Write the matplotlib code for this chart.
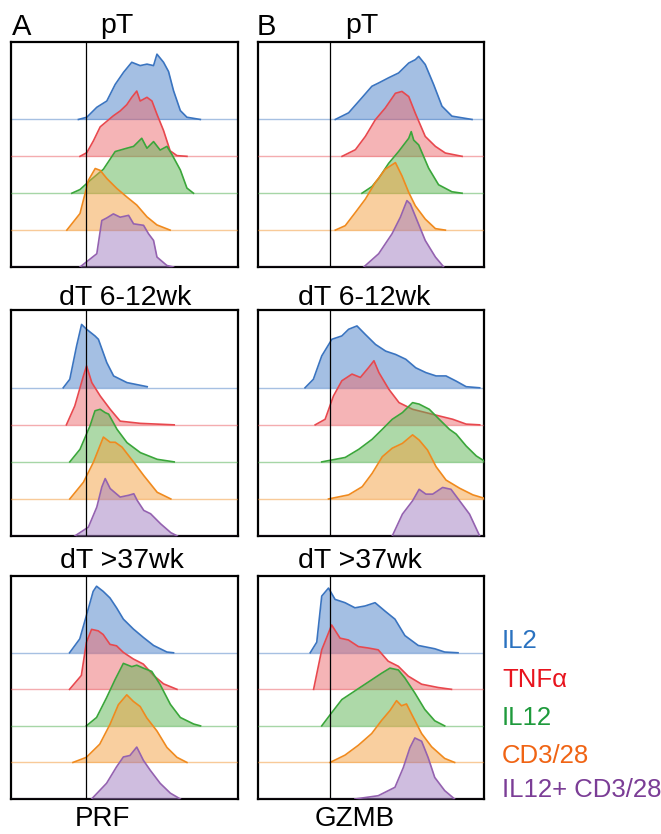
"""Stacked flow-cytometry histograms of PRF and GZMB per stimulation."""

import matplotlib
matplotlib.use("Agg")
import matplotlib.pyplot as plt
import numpy as np

plt.rcParams["font.family"] = ["Liberation Sans", "DejaVu Sans"]

conditions = ["IL2", "TNFα", "IL12", "CD3/28", "IL12+ CD3/28"]
label_colors = ["#2a72c0", "#e8141e", "#1e9a3c", "#f06414", "#7b3d96"]
fill_colors = ["#4a80c8", "#ec6a6e", "#5cb453", "#f4a040", "#a07cc0"]
edge_colors = ["#3a74c0", "#e8484e", "#3aa63a", "#f08a1e", "#9462b0"]

stages = ["pT", "dT 6-12wk", "dT >37wk"]
markers = ["PRF", "GZMB"]
gates = [33, 32]

# fluorescence (0-100) and histogram height (row units), one list per condition
prf_pt_x = [
    [29.7, 33.4, 37.8, 42.2, 45.9, 49.6, 53.2, 56.9, 59.9, 62.8, 64.3, 67.2, 69.4, 71.6, 74.6, 77.5, 83.4],
    [30.4, 33.4, 36.3, 39.3, 45.1, 48.1, 51.0, 53.2, 55.4, 56.9, 59.9, 62.1, 64.3, 67.2, 70.1, 73.1, 77.5],
    [26.8, 30.4, 34.9, 40.7, 45.9, 51.0, 54.0, 57.6, 59.9, 62.8, 65.7, 68.7, 70.9, 74.6, 77.5, 80.4],
    [24.6, 30.4, 34.1, 37.1, 39.3, 42.2, 46.6, 51.0, 55.4, 59.9, 64.3, 70.1],
    [30.4, 37.8, 40.0, 42.2, 45.1, 48.1, 51.8, 54.0, 58.4, 60.6, 62.8, 64.3, 68.7, 71.6],
]
prf_pt_h = [
    [0, 0.06, 0.33, 0.5, 0.95, 1.28, 1.55, 1.46, 1.5, 1.46, 1.77, 1.55, 1.3, 0.78, 0.24, 0.06, 0],
    [0, 0.1, 0.42, 0.8, 1.1, 1.23, 1.4, 1.6, 1.77, 1.5, 1.6, 1.5, 1.14, 0.7, 0.15, 0.02, 0],
    [0, 0.1, 0.35, 0.65, 1.13, 1.22, 1.27, 1.49, 1.22, 1.4, 1.17, 1.27, 1.05, 0.63, 0.14, 0],
    [0, 0.45, 1.35, 1.67, 1.62, 1.4, 1.13, 0.9, 0.68, 0.36, 0.14, 0],
    [0, 0.36, 1.26, 1.33, 1.44, 1.35, 1.4, 1.17, 1.13, 0.9, 0.72, 0.27, 0.04, 0],
]

gzmb_pt_x = [
    [34.2, 40.1, 46.0, 50.4, 53.4, 57.8, 62.2, 66.7, 69.6, 71.1, 74.0, 77.7, 81.4, 85.8, 91.7, 94.7],
    [37.2, 43.1, 47.5, 51.9, 56.3, 60.8, 63.7, 66.7, 69.6, 74.0, 78.5, 82.9, 90.3],
    [46.0, 50.4, 53.4, 57.8, 62.2, 66.7, 67.8, 68.9, 71.1, 75.5, 79.9, 85.8, 90.3],
    [34.2, 38.6, 43.1, 47.5, 51.9, 56.3, 60.8, 63.7, 66.7, 69.6, 74.0, 78.5, 82.9],
    [46.8, 53.4, 59.3, 63.0, 65.9, 67.4, 70.4, 74.0, 78.5, 82.2],
]
gzmb_pt_h = [
    [0, 0.18, 0.59, 0.9, 0.99, 1.13, 1.26, 1.53, 1.62, 1.71, 1.49, 0.95, 0.36, 0.09, 0.03, 0],
    [0, 0.18, 0.54, 0.99, 1.31, 1.71, 1.76, 1.62, 1.17, 0.54, 0.27, 0.09, 0],
    [0, 0.18, 0.4, 0.81, 1.13, 1.49, 1.67, 1.44, 1.31, 0.68, 0.23, 0.04, 0],
    [0, 0.12, 0.48, 0.84, 1.29, 1.65, 1.83, 1.47, 1.02, 0.66, 0.3, 0.04, 0],
    [0, 0.36, 0.9, 1.35, 1.8, 1.71, 1.26, 0.72, 0.27, 0],
]

prf_early_x = [
    [23.0, 25.9, 28.9, 31.1, 33.3, 37.0, 38.5, 42.2, 45.2, 51.1, 60.0],
    [24.4, 28.1, 31.9, 33.3, 35.6, 39.3, 43.7, 48.1, 57.0, 71.9],
    [25.9, 30.4, 34.8, 37.0, 39.3, 41.5, 43.0, 46.7, 51.1, 57.0, 64.4, 71.9],
    [25.9, 31.9, 36.3, 40.7, 43.7, 45.9, 48.9, 54.1, 58.5, 64.4, 70.4],
    [28.1, 34.1, 37.8, 40.0, 41.5, 43.7, 48.1, 51.9, 54.1, 55.6, 58.5, 61.5, 65.9, 70.4, 73.3],
]
prf_early_h = [
    [0, 0.23, 1.13, 1.71, 1.58, 1.4, 1.31, 0.68, 0.32, 0.14, 0.03],
    [0, 0.51, 1.32, 1.59, 1.14, 0.78, 0.42, 0.1, 0.04, 0],
    [0, 0.34, 0.97, 1.38, 1.42, 1.33, 1.29, 0.88, 0.52, 0.25, 0.07, 0],
    [0, 0.45, 0.99, 1.67, 1.53, 1.53, 1.4, 0.99, 0.63, 0.18, 0],
    [0, 0.24, 0.78, 1.32, 1.55, 1.28, 1.05, 1.1, 1.14, 0.96, 0.69, 0.6, 0.33, 0.09, 0],
]

gzmb_early_x = [
    [20.8, 24.5, 28.2, 32.7, 37.1, 40.1, 43.8, 47.5, 52.0, 56.5, 60.9, 65.4, 69.8, 74.3, 78.8, 83.2, 87.7, 92.1, 98.1],
    [25.3, 29.7, 33.4, 37.1, 41.6, 45.3, 49.0, 51.3, 53.5, 57.9, 62.4, 68.4, 74.3, 80.2, 86.2, 92.1, 98.1],
    [28.2, 38.6, 44.6, 50.5, 55.0, 59.4, 63.9, 68.4, 71.3, 75.8, 80.2, 84.7, 87.7, 92.1, 96.6, 100.0],
    [31.2, 40.1, 46.1, 50.5, 55.0, 59.4, 63.9, 68.4, 71.3, 75.0, 78.8, 83.2, 89.2, 95.1, 100.0],
    [59.4, 63.9, 68.4, 71.3, 74.3, 77.3, 81.7, 85.4, 89.2, 93.6, 98.1],
]
gzmb_early_h = [
    [0, 0.23, 0.86, 1.31, 1.4, 1.58, 1.67, 1.44, 1.17, 0.99, 0.9, 0.77, 0.54, 0.41, 0.32, 0.32, 0.18, 0.03, 0],
    [0, 0.15, 0.78, 1.19, 1.37, 1.28, 1.55, 1.73, 1.41, 0.96, 0.6, 0.42, 0.33, 0.24, 0.15, 0.02, 0],
    [0, 0.12, 0.34, 0.61, 0.88, 1.15, 1.33, 1.6, 1.56, 1.42, 1.15, 0.88, 0.75, 0.43, 0.16, 0.03],
    [0, 0.11, 0.33, 0.69, 1.14, 1.37, 1.5, 1.73, 1.59, 1.32, 0.87, 0.51, 0.29, 0.11, 0.02],
    [0, 0.59, 0.95, 1.26, 1.13, 1.13, 1.31, 1.26, 0.95, 0.59, 0],
]

prf_late_x = [
    [25.8, 30.3, 34.0, 36.2, 37.7, 40.6, 43.6, 46.5, 49.5, 53.9, 58.3, 62.8, 68.7, 71.6],
    [25.8, 31.0, 33.2, 35.5, 38.4, 40.6, 43.6, 46.5, 49.5, 53.9, 58.3, 62.8, 67.2, 73.1],
    [33.2, 37.7, 42.1, 45.8, 49.5, 53.2, 55.4, 58.3, 62.0, 65.7, 70.2, 74.6, 80.5, 83.5],
    [27.3, 33.2, 39.1, 43.6, 47.3, 51.0, 53.9, 56.9, 59.8, 64.3, 68.7, 73.1, 77.5],
    [35.5, 42.1, 46.5, 49.5, 52.4, 55.4, 58.3, 61.3, 65.7, 70.2, 74.6],
]
prf_late_h = [
    [0, 0.38, 1.19, 1.68, 1.82, 1.68, 1.5, 1.23, 0.92, 0.65, 0.42, 0.2, 0.02, 0],
    [0, 0.38, 1.28, 1.64, 1.6, 1.5, 1.23, 1.19, 1.01, 0.83, 0.69, 0.38, 0.15, 0],
    [0, 0.23, 0.77, 1.26, 1.71, 1.62, 1.66, 1.58, 1.49, 1.13, 0.59, 0.23, 0.05, 0],
    [0, 0.14, 0.5, 1.04, 1.58, 1.85, 1.67, 1.53, 1.22, 0.86, 0.41, 0.14, 0],
    [0, 0.43, 0.88, 1.15, 1.19, 1.42, 1.06, 0.79, 0.43, 0.16, 0],
]

gzmb_late_x = [
    [23.1, 26.0, 28.2, 31.2, 34.1, 38.5, 42.9, 47.4, 51.8, 56.2, 60.6, 65.0, 70.9, 78.2, 82.6, 88.5],
    [24.6, 28.2, 32.6, 36.3, 40.0, 44.4, 48.8, 53.2, 57.6, 62.1, 66.5, 72.4, 79.7, 85.6],
    [28.2, 32.6, 37.1, 41.5, 45.9, 50.3, 54.7, 58.4, 62.1, 65.0, 69.4, 73.8, 78.2, 82.6],
    [31.9, 38.5, 44.4, 50.3, 54.7, 58.4, 61.3, 63.5, 65.7, 67.9, 72.4, 76.8, 82.6, 87.0],
    [42.9, 53.2, 60.6, 64.3, 67.2, 69.4, 72.4, 75.3, 78.2, 82.6, 87.0],
]
gzmb_late_h = [
    [0, 0.29, 1.55, 1.77, 1.46, 1.37, 1.23, 1.28, 1.37, 1.14, 0.92, 0.47, 0.2, 0.11, 0.02, 0],
    [0, 1.08, 1.76, 1.4, 1.35, 1.17, 1.13, 1.08, 0.77, 0.63, 0.36, 0.14, 0.05, 0],
    [0, 0.36, 0.72, 0.9, 1.08, 1.26, 1.44, 1.58, 1.53, 1.31, 0.9, 0.45, 0.14, 0],
    [0, 0.2, 0.47, 0.79, 1.15, 1.42, 1.69, 1.55, 1.6, 1.33, 0.79, 0.43, 0.11, 0],
    [0, 0.09, 0.32, 0.86, 1.4, 1.67, 1.58, 1.13, 0.59, 0.23, 0],
]

panel_x = [[prf_pt_x, gzmb_pt_x], [prf_early_x, gzmb_early_x], [prf_late_x, gzmb_late_x]]
panel_h = [[prf_pt_h, gzmb_pt_h], [prf_early_h, gzmb_early_h], [prf_late_h, gzmb_late_h]]


def draw_ridges(ax, xs, hs, gate):
    n = len(xs)
    for i, (x, h) in enumerate(zip(xs, hs)):
        base = n - 1 - i
        x = np.asarray(x, dtype=float)
        y = base + np.asarray(h, dtype=float)
        ax.axhline(base, color=edge_colors[i], lw=1.0, alpha=0.45, zorder=2 + i)
        ax.fill_between(x, base, y, color=fill_colors[i], alpha=0.5, lw=0, zorder=2 + i)
        ax.plot(x, y, color=edge_colors[i], lw=1.2, zorder=2 + i)
    ax.axvline(gate, color="black", lw=0.9, zorder=10)
    ax.set(xlim=(0, 100), ylim=(0, 6.1), xticks=[], yticks=[])
    for spine in ax.spines.values():
        spine.set_linewidth(1.6)


fig = plt.figure(figsize=(6.61, 8.34), dpi=100)
W, H = 661, 834
col_px = [(11, 238), (258, 484)]
row_px = [(42, 267), (310, 536), (576, 799)]

for r, (top, bottom) in enumerate(row_px):
    for c, (left, right) in enumerate(col_px):
        ax = fig.add_axes([left / W, 1 - bottom / H, (right - left) / W, (bottom - top) / H])
        draw_ridges(ax, panel_x[r][c], panel_h[r][c], gates[c])

# panel letters and stage titles
fig.text(12 / W, 1 - 35 / H, "A", fontsize=21, va="baseline")
fig.text(257 / W, 1 - 35 / H, "B", fontsize=21, va="baseline")
title_y = [33, 305, 568]
title_cx = [[117, 362], [125, 364], [122, 360]]
for r, stage in enumerate(stages):
    for c in range(2):
        fig.text(title_cx[r][c] / W, 1 - title_y[r] / H, stage, fontsize=20.5,
                 ha="center", va="baseline")

# marker names sit right at the bottom edge
fig.text(102 / W, 1 - 826 / H, markers[0], fontsize=20, ha="center", va="baseline")
fig.text(355 / W, 1 - 826 / H, markers[1], fontsize=20, ha="center", va="baseline")

legend_y = [648, 687, 725, 763, 797]
for name, color, y in zip(conditions, label_colors, legend_y):
    fig.text(502 / W, 1 - y / H, name, color=color, fontsize=18.5, va="baseline")

fig.savefig("out.png", dpi=100)
